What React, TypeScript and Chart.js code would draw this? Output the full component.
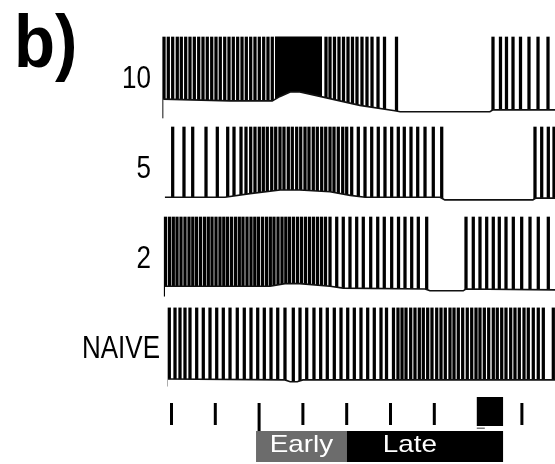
import React, { useEffect, useRef } from 'react';
import { Chart, registerables } from 'chart.js';

Chart.register(...registerables);

// ---- data (time in s, membrane potential in mV; traces stacked by offset) ----
const panelLabel = 'b)';
const traceLabels = ['10', '5', '2', 'NAIVE'];
const traceOffsets = [0, -100, -200, -300];
const spikePeak = [15, 15, 15, 14];
const spikeFloor = [-75, -73, -73, -73];

const spikes10 = [-0.171, -0.073, 0.027, 0.132, 0.224, 0.324, 0.422, 0.521, 0.621, 0.719, 0.817, 0.918, 1.016, 1.114, 1.215, 1.313, 1.411, 1.511, 1.61, 1.708, 1.808, 1.906, 2.005, 2.105, 2.203, 2.301,
  3.527, 3.619, 3.721, 3.824, 3.927, 4.03, 4.132, 4.235, 4.349, 4.463, 4.578, 4.715, 4.863, 5.137,
  7.34, 7.511, 7.648, 7.797, 7.968, 8.162, 8.368, 8.596];
const burst10 = [2.363, 3.436];
const spikes5 = [0.027, 0.285, 0.484, 0.788, 1.046, 1.283, 1.427, 1.587, 1.701, 1.808, 1.906, 2.005, 2.096, 2.187, 2.288, 2.379, 2.477, 2.568, 2.667, 2.758, 2.858, 2.95, 3.048, 3.139, 3.237, 3.329, 3.429, 3.521, 3.619, 3.71, 3.808, 3.909, 4.0, 4.114, 4.265, 4.418, 4.571, 4.721, 4.874, 5.027, 5.178, 5.315, 5.468, 5.621, 5.788, 5.977, 6.169,
  8.299, 8.452, 8.603, 8.733];
const spikes2 = [-0.137, -0.046, 0.041, 0.126, 0.217, 0.308, 0.4, 0.486, 0.571, 0.662, 0.753, 0.84, 0.925, 1.016, 1.107, 1.194, 1.279, 1.37, 1.461, 1.548, 1.632, 1.724, 1.815, 1.902, 1.986, 2.078, 2.169, 2.256, 2.34, 2.432, 2.523, 2.61, 2.694, 2.785, 2.877, 2.968, 3.059, 3.151, 3.242, 3.333, 3.425, 3.516, 3.619, 3.772, 3.922, 4.075, 4.228, 4.379, 4.548, 4.708, 4.858, 5.027, 5.183, 5.331, 5.484, 5.635, 5.826,
  6.724, 6.89, 7.043, 7.196, 7.347, 7.484, 7.637, 7.804, 7.995, 8.185, 8.374, 8.603];
const spikesNaive = [-0.05, 0.08, 0.194, 0.308, 0.422, 0.575, 0.726, 0.879, 1.032, 1.183, 1.336, 1.502, 1.662, 1.815, 1.968, 2.119, 2.272, 2.425, 2.591, 2.781, 2.934, 3.087, 3.253, 3.406, 3.557, 3.717, 3.87, 4.023, 4.174, 4.326, 4.479, 4.63, 4.783, 4.909, 5.068, 5.171, 5.263, 5.354, 5.461, 5.559, 5.658, 5.749, 5.849, 5.947, 6.055, 6.153, 6.251, 6.358, 6.45, 6.548, 6.648, 6.753, 6.854, 6.952, 7.043, 7.142, 7.242, 7.347, 7.438, 7.539, 7.637, 7.744, 7.842, 7.941, 8.048, 8.146, 8.26, 8.374, 8.489, 8.717];

const baseline10 = [[-0.19, -54], [1.34, -56], [2.3, -56], [2.48, -51], [2.71, -46], [2.93, -46], [3.39, -51], [4.3, -61], [5.1, -67], [5.22, -68], [7.27, -68], [7.34, -66], [8.76, -66]];
const baseline5 = [[-0.15, -63], [1.22, -63], [1.79, -59], [2.48, -55], [2.93, -55], [3.62, -57], [4.08, -61], [4.42, -63], [6.13, -63], [6.24, -66], [8.25, -66], [8.32, -64], [8.76, -64]];
const baseline2 = [[-0.15, -62], [2.25, -62], [2.59, -59], [2.93, -59], [3.62, -62], [3.92, -64], [5.79, -65], [5.9, -67], [6.66, -67], [6.72, -65], [8.76, -66]];
const baselineNaive = [[-0.08, -65], [2.59, -66], [2.71, -68], [2.87, -68], [3.0, -66], [8.76, -66]];

const markerTimes = [0, 1, 2, 3, 4, 5, 6, 8];
const stimulusWindow = [6.97, 7.57];
const earlyWindow = [1.93, 4.0];
const lateWindow = [4.0, 7.57];
const epochLabels = ['Early', 'Late'];

const traceSpikes = [spikes10, spikes5, spikes2, spikesNaive];
const traceBaselines = [baseline10, baseline5, baseline2, baselineNaive];

const FONT = '"Liberation Sans", Arial, Helvetica, sans-serif';

function drawText(ctx: CanvasRenderingContext2D, text: string, x: number, y: number, font: string, sx: number, sy: number, align: CanvasTextAlign, color: string) {
  ctx.save();
  ctx.translate(x, y);
  ctx.scale(sx, sy);
  ctx.font = font;
  ctx.textAlign = align;
  ctx.textBaseline = 'alphabetic';
  ctx.fillStyle = color;
  ctx.fillText(text, 0, 0);
  ctx.restore();
}

const annotatePlugin = {
  id: 'annotate',
  afterDraw(chart: any) {
    const { ctx } = chart;
    const xs = chart.scales.x;
    const ys = chart.scales.y;
    ctx.save();
    drawText(ctx, panelLabel, 14, 67, `bold 64px ${FONT}`, 1.05, 1.17, 'left', '#000');
    traceLabels.forEach((lab, i) => {
      const right = lab.length > 2 ? 160 : 151;
      drawText(ctx, lab, right, ys.getPixelForValue(traceOffsets[i] - 42), `26px ${FONT}`, 1, 1.24, 'right', '#000');
    });
    // time markers
    ctx.fillStyle = '#000';
    markerTimes.forEach((t) => {
      const px = xs.getPixelForValue(t);
      ctx.fillRect(px - 1.5, 403, 3, Math.abs(t - earlyWindow[0]) < 0.1 ? 29 : 22);
    });
    // stimulus block
    const s0 = xs.getPixelForValue(stimulusWindow[0]);
    const s1 = xs.getPixelForValue(stimulusWindow[1]);
    ctx.fillStyle = '#000';
    ctx.fillRect(s0, 397, s1 - s0, 29);
    ctx.fillStyle = '#777';
    ctx.fillRect(s0, 427.5, 8, 1.5);
    // epoch bar
    const e0 = xs.getPixelForValue(earlyWindow[0]);
    const e1 = xs.getPixelForValue(earlyWindow[1]);
    const l1 = xs.getPixelForValue(lateWindow[1]);
    ctx.fillStyle = '#6c6c6c';
    ctx.fillRect(e0, 431, e1 - e0, 31);
    ctx.fillStyle = '#000';
    ctx.fillRect(e1, 431, l1 - e1, 31);
    drawText(ctx, epochLabels[0], (e0 + e1) / 2, 452, `24px ${FONT}`, 1.16, 1, 'center', '#fff');
    drawText(ctx, epochLabels[1], e1 + 36, 452, `24px ${FONT}`, 1.16, 1, 'left', '#fff');
    ctx.restore();
  },
};

export default function App() {
  const ref = useRef<HTMLCanvasElement | null>(null);
  useEffect(() => {
    if (!ref.current) return;
    const datasets: any[] = [];
    traceSpikes.forEach((sp, i) => {
      datasets.push({
        type: 'bar',
        data: sp.map((t) => ({ x: t, y: [spikeFloor[i] + traceOffsets[i], spikePeak[i] + traceOffsets[i]] })),
        backgroundColor: '#000',
        borderWidth: 0,
        barThickness: 2.6,
        grouped: false,
        order: 3,
      });
    });
    datasets.push({
      type: 'line',
      data: burst10.map((t) => ({ x: t, y: spikePeak[0] + traceOffsets[0] })),
      borderColor: '#000',
      borderWidth: 1,
      backgroundColor: '#000',
      fill: { value: spikeFloor[0] + traceOffsets[0] },
      pointRadius: 0,
      order: 2,
    });
    traceBaselines.forEach((bl, i) => {
      datasets.push({
        type: 'line',
        data: bl.map(([t, v]) => ({ x: t, y: v + traceOffsets[i] })),
        borderColor: '#111',
        borderWidth: 1.6,
        backgroundColor: '#ffffff',
        fill: { value: spikeFloor[i] + traceOffsets[i] - 1 },
        pointRadius: 0,
        tension: 0,
        order: 1,
      });
    });
    const chart = new Chart(ref.current, {
      type: 'bar',
      data: { datasets },
      options: {
        animation: false,
        responsive: false,
        layout: { padding: 0 },
        plugins: { legend: { display: false }, tooltip: { enabled: false }, title: { display: false } },
        scales: {
          x: { type: 'linear', min: -3.9155, max: 8.7557, display: false, offset: false },
          y: { type: 'linear', min: -459.44, max: 56.11, display: false },
        },
      },
      plugins: [annotatePlugin],
    } as any);
    return () => chart.destroy();
  }, []);
  return (
    <div style={{ position: 'absolute', left: 0, top: 0, width: 555, height: 464, background: '#fff' }}>
      <canvas ref={ref} width={555} height={464} style={{ display: 'block' }} />
    </div>
  );
}
